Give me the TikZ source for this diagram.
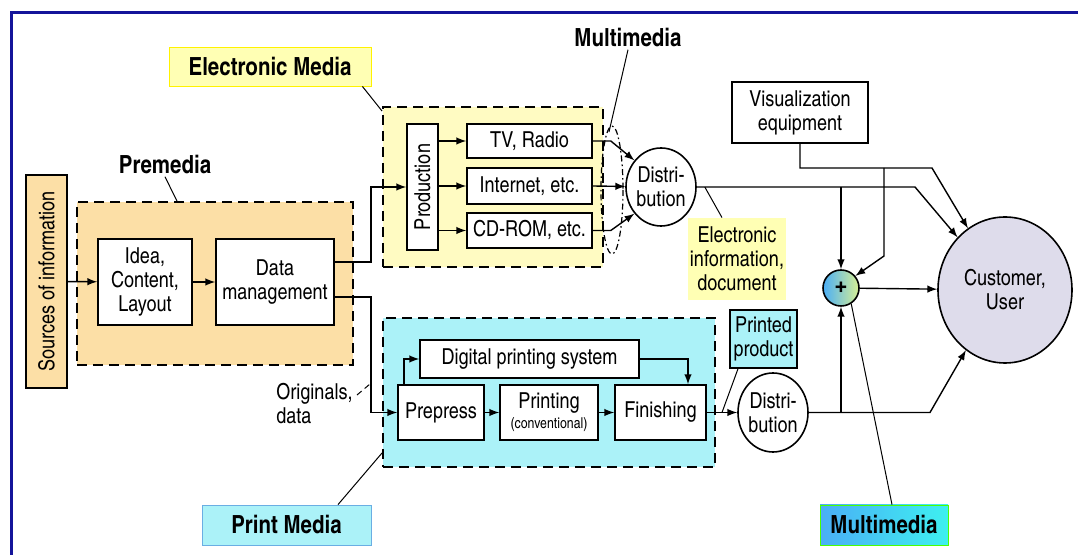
\documentclass[tikz,border=0pt]{standalone}
\usepackage{fontspec}
\setmainfont{texgyreheroscn}[Extension=.otf, UprightFont=*-regular, BoldFont=*-bold]
\usetikzlibrary{arrows,shapes.geometric}
\definecolor{frameblue}{HTML}{14149A}
\definecolor{preorange}{HTML}{FCDFA6}
\definecolor{elyellow}{HTML}{FFFBC2}
\definecolor{tagyellow}{HTML}{FFFFB4}
\definecolor{prcyan}{HTML}{ABF2F8}
\definecolor{custgray}{HTML}{DEDCEB}
\definecolor{mmblue}{HTML}{4AAEF6}
\definecolor{mmpale}{HTML}{EAF7A8}
\definecolor{mmcyan}{HTML}{3EF0F0}
\definecolor{mmgreen}{HTML}{D8F094}

\begin{document}
\begin{tikzpicture}[x=0.5pt,y=-0.5pt,>=latex,
    every node/.style={font=\fontsize{11}{12}\selectfont, align=center, inner sep=1pt},
    blk/.style={draw, fill=white, line width=0.8pt},
    area/.style={draw, dash pattern=on 5pt off 3pt, line width=0.9pt, inner sep=0pt},
    tag/.style={font=\bfseries\fontsize{12.5}{14}\selectfont},
    lead/.style={line width=0.5pt},
    flow/.style={->, line width=0.7pt}]
  \useasboundingbox (0,0) rectangle (1078,555);
  \draw[frameblue, line width=1.5pt] (11,555) -- (11,13) -- (1078,13);

  % areas
  \node[area, fill=preorange, minimum width=138pt, minimum height=81.5pt] (prem) at (215,283.5) {};
  \node[area, fill=elyellow, minimum width=110pt, minimum height=80pt] (elec) at (493,187) {};
  \node[area, fill=prcyan, minimum width=166pt, minimum height=74.5pt] (prnt) at (549,392.5) {};

  % labels
  \node[tag] (prlab) at (165,165) {Premedia};
  \node[tag, draw=yellow, fill=tagyellow, minimum width=101pt, minimum height=19.5pt] (ellab) at (270,66.5) {Electronic Media};
  \node[tag] (mmlab) at (628,38) {Multimedia};
  \node[tag, draw=cyan!70!blue!60, fill=prcyan, minimum width=84.5pt, minimum height=20pt] (prlab2) at (286.5,525) {Print Media};
  \node[tag, draw=green!70!yellow, left color=mmblue, middle color=mmpale, right color=mmcyan, minimum width=64pt, minimum height=20pt] (mmlab2) at (884,525) {Multimedia};
  \node[fill=tagyellow, minimum width=49pt, minimum height=41pt] (eidoc) at (737,259) {Electronic\\information,\\document};
  \node[anchor=north west, align=left] (orig) at (274,381) {Originals,\\data};

  % blocks
  \node[blk, fill=preorange, minimum width=20.5pt, minimum height=106.5pt] (src) at (46.5,281.5) {};
  \node[rotate=90] at (src) {Sources of information};
  \node[blk, minimum width=47pt, minimum height=43pt] (idea) at (145,282) {Idea,\\Content,\\Layout};
  \node[blk, minimum width=59pt, minimum height=43pt] (dm) at (275,282) {Data\\management};
  \node[blk, minimum width=15.5pt, minimum height=63pt] (prod) at (422.5,187) {};
  \node[rotate=90] at (prod) {Production};
  \node[blk, minimum width=62.5pt, minimum height=17pt] (tv) at (529.5,141) {TV, Radio};
  \node[blk, minimum width=62.5pt, minimum height=18pt] (inet) at (529.5,186) {Internet, etc.};
  \node[blk, minimum width=62.5pt, minimum height=17.5pt] (cd) at (529.5,230.5) {CD-ROM, etc.};
  \node[blk, ellipse, inner sep=0pt, minimum width=35pt, minimum height=39pt] (edist) at (661,187) {Distri-\\bution};
  \node[blk, minimum width=68pt, minimum height=30.5pt] (vis) at (800,112.5) {Visualization\\equipment};
  \node[draw, circle, line width=0.8pt, left color=mmblue, right color=mmgreen, minimum size=18pt, inner sep=0pt, font=\bfseries\Large] (plus) at (841,288) {+};
  \node[blk, ellipse, fill=custgray, minimum width=67pt, minimum height=73pt] (cust) at (1005,290) {Customer,\\User};
  \node[blk, minimum width=109.5pt, minimum height=19pt] (dps) at (529.5,359) {Digital printing system};
  \node[blk, minimum width=43pt, minimum height=27.5pt] (prep) at (441,412.5) {Prepress};
  \node[blk, minimum width=49pt, minimum height=27.5pt] (ptg) at (549,412.5) {Printing\\[-2pt]{\fontsize{7.5}{8}\selectfont(conventional)}};
  \node[blk, minimum width=45.5pt, minimum height=27.5pt] (fin) at (660.5,412.5) {Finishing};
  \node[blk, fill=prcyan, minimum width=33.5pt, minimum height=29pt] (pprod) at (763.5,339) {Printed\\product};
  \node[blk, ellipse, inner sep=0pt, minimum width=35pt, minimum height=39.5pt] (pdist) at (773,412.5) {Distri-\\bution};

  \coordinate (ebend) at (915,187);
  \coordinate (vbend) at (932,168);
  \coordinate (vjoin) at (884,168);
  \coordinate (pbend) at (930,412.5);

  % flows
  \draw[flow] (src) -- (idea);
  \draw[flow] (idea) -- (dm);
  \draw[flow] ([yshift=10pt]dm.east) -- ++(36,0) |- (prod.west);
  \draw[flow] ([yshift=-7.5pt]dm.east) -- ++(36,0) |- (prep.west);
  \draw[flow] (prod.east |- tv) -- (tv.west);
  \draw[flow] (prod.east |- inet) -- (inet.west);
  \draw[flow] (prod.east |- cd) -- (cd.west);
  \draw[flow] (tv.east) -- ++(18,0) -- (edist.135);
  \draw[flow] (inet.east) -- (edist);
  \draw[flow] (cd.east) -- ++(18,0) -- (edist.225);
  \draw[flow] (edist.east) -- (ebend) -- (cust.132);
  \draw[flow] (edist.east -| plus) -- (plus.north);
  \draw[flow] (vis.south) |- (vbend) -- (cust.121);
  \draw[flow] (vjoin) -- ++(0,88) -- (plus.40);
  \draw[flow] (plus) -- (cust);
  \draw[flow] ([xshift=-18.5pt]prep.north) |- (dps.west);
  \draw[flow] (dps.east) -| ([xshift=13.75pt]fin.north);
  \draw[flow] (prep) -- (ptg);
  \draw[flow] (ptg) -- (fin);
  \draw[flow] (fin) -- (pdist);
  \draw[flow] (pdist.east) -- (pbend) -- (cust.237);
  \draw[flow] (pdist.east -| plus) -- (plus.south);

  % leaders
  \draw[dash pattern=on 3pt off 1.5pt on 0.8pt off 1.5pt, line width=0.6pt] (612,190) ellipse (11 and 64);
  \draw[lead] (prlab.south) -- ([xshift=-19pt]prem.north);
  \draw[lead] ([xshift=-4.5pt]ellab.south east) -- ([yshift=-2.5pt]elec.north west);
  \draw[lead] (mmlab.south) -- (609,132);
  \draw[lead] ([xshift=4pt]edist.east) -- ([xshift=-7.5pt]eidoc.north);
  \draw[lead] ([xshift=25.75pt]prlab2.north) -- ([yshift=7.5pt]prnt.south west);
  \draw[lead, densely dashed] ([xshift=1pt,yshift=-7pt]orig.north east) -- (370,384);
  \draw[lead] ([xshift=-12.75pt]pprod.south) -- (722,412.5);
  \draw[lead] ([xshift=4pt]mmlab2.north) -- (plus.-57);
\end{tikzpicture}
\end{document}
